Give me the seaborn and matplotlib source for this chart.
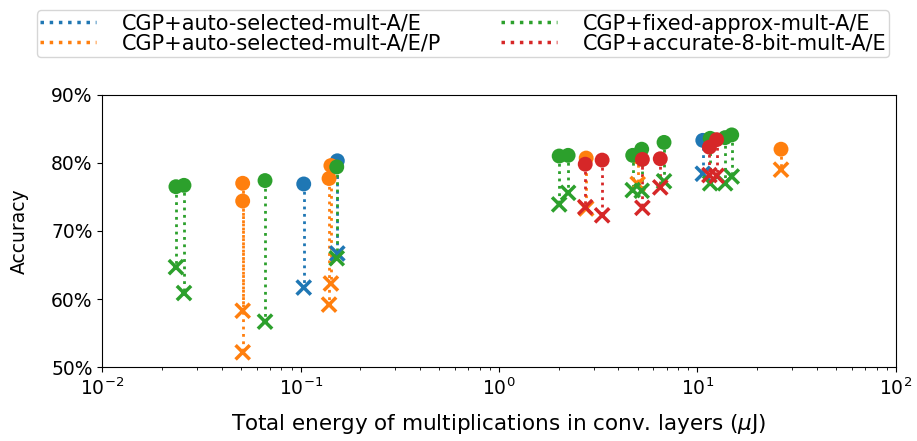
import numpy as np
import pandas as pd
import matplotlib
matplotlib.use("Agg")
import matplotlib.pyplot as plt
from matplotlib.ticker import PercentFormatter
import seaborn as sns

# -----------------------------
# Data
# -----------------------------
SERIES = [
    "CGP+auto-selected-mult-A/E",
    "CGP+auto-selected-mult-A/E/P",
    "CGP+fixed-approx-mult-A/E",
    "CGP+accurate-8-bit-mult-A/E",
]
COLORS = ["#1f77b4", "#ff7f0e", "#2ca02c", "#d62728"]

# energy (uJ), accuracy of the circle point, accuracy of the cross point
blue_energy = [0.1036, 0.153, 10.65]
blue_acc_o = [76.9, 80.3, 83.3]
blue_acc_x = [61.7, 66.7, 78.4]

orange_energy = [0.051, 0.051, 0.139, 0.142, 2.75, 5.0, 26.4]
orange_acc_o = [77.0, 74.4, 77.7, 79.6, 80.7, 80.9, 82.0]
orange_acc_x = [58.3, 52.2, 59.2, 62.3, 73.3, 76.9, 79.0]

green_energy = [0.0235, 0.0258, 0.0661, 0.152, 2.01, 2.23, 4.72, 5.24, 6.79, 11.6, 13.8, 14.9]
green_acc_o = [76.5, 76.7, 77.4, 79.4, 81.0, 81.1, 81.1, 82.0, 83.0, 83.6, 83.7, 84.1]
green_acc_x = [64.7, 60.9, 56.7, 66.0, 73.9, 75.6, 76.0, 75.9, 77.3, 77.0, 77.0, 78.0]

red_energy = [2.72, 3.31, 5.28, 6.50, 11.5, 12.5]
red_acc_o = [79.8, 80.4, 80.5, 80.6, 82.3, 83.4]
red_acc_x = [73.5, 72.3, 73.4, 76.4, 78.2, 78.1]

XLABEL = r"Total energy of multiplications in conv. layers ($\mu$J)"
YLABEL = "Accuracy"

# -----------------------------
# Build long tables
# -----------------------------
def build_frame():
    parts = []
    for name, e, ao, ax_ in [
        (SERIES[0], blue_energy, blue_acc_o, blue_acc_x),
        (SERIES[1], orange_energy, orange_acc_o, orange_acc_x),
        (SERIES[2], green_energy, green_acc_o, green_acc_x),
        (SERIES[3], red_energy, red_acc_o, red_acc_x),
    ]:
        parts.append(pd.DataFrame({"series": name, "energy": e,
                                   "acc_o": ao, "acc_x": ax_}))
    df = pd.concat(parts, ignore_index=True)
    df["pair"] = np.arange(len(df))
    return df


df = build_frame()
long = pd.concat([
    df[["series", "energy", "pair"]].assign(acc=df["acc_o"]),
    df[["series", "energy", "pair"]].assign(acc=df["acc_x"]),
], ignore_index=True)

palette = dict(zip(SERIES, COLORS))

# -----------------------------
# Plot
# -----------------------------
fig, ax = plt.subplots(figsize=(9.17, 4.41), dpi=100)
fig.subplots_adjust(left=0.1116, right=0.9768, top=0.7853, bottom=0.1671)

sns.lineplot(data=long, x="energy", y="acc", hue="series", hue_order=SERIES,
             palette=palette, units="pair", estimator=None, sort=False,
             linestyle=":", linewidth=2, ax=ax)
sns.scatterplot(data=df, x="energy", y="acc_o", hue="series", hue_order=SERIES,
                palette=palette, marker="o", s=115, linewidth=0, legend=False,
                ax=ax, zorder=3)
sns.scatterplot(data=df, x="energy", y="acc_x", hue="series", hue_order=SERIES,
                palette=palette, marker="x", s=105, linewidth=2.5, legend=False,
                ax=ax, zorder=3)

ax.set_xscale("log")
ax.set_xlim(1e-2, 1e2)
ax.set_ylim(50, 90)
ax.set_yticks([50, 60, 70, 80, 90])
ax.yaxis.set_major_formatter(PercentFormatter(decimals=0))
ax.tick_params(labelsize=13.5)
ax.set_xlabel(XLABEL, fontsize=15.5, labelpad=10)
ax.set_ylabel(YLABEL, fontsize=13.5, labelpad=16)

handles, labels = ax.get_legend_handles_labels()
ax.get_legend().remove()
for h in handles:
    h.set_linewidth(2.5)
fig.legend(handles, labels, loc="upper center", bbox_to_anchor=(0.505, 1.0),
           ncol=2, fontsize=15, columnspacing=2.9, handlelength=2.7,
           handletextpad=1.2, labelspacing=0.0, borderpad=0.15)

plt.savefig("out.png", dpi=100)
plt.close()
